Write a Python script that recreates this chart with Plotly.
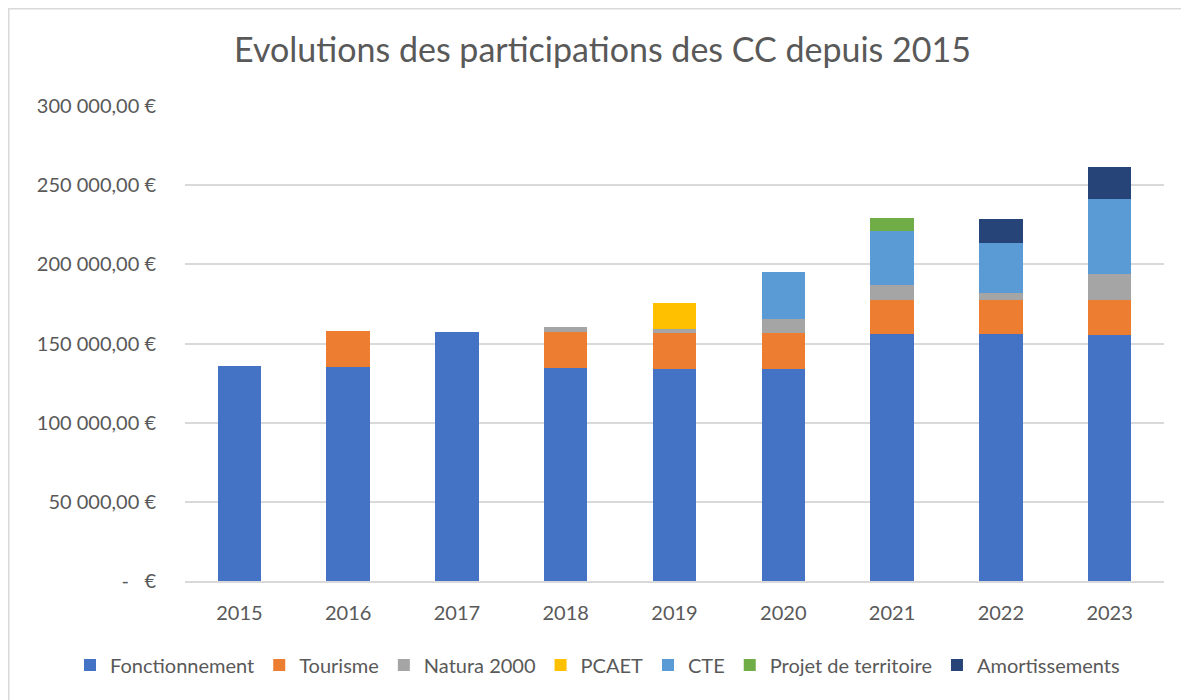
import plotly.graph_objects as go

years = ["2015", "2016", "2017", "2018", "2019", "2020", "2021", "2022", "2023"]
fonctionnement = [136000, 135400, 157500, 134800, 134100, 134100, 155800, 155800, 155400]
tourisme = [0, 22700, 0, 22300, 22800, 22800, 21900, 21900, 22300]
natura2000 = [0, 0, 0, 3100, 2300, 8400, 9100, 4000, 16400]
pcaet = [0, 0, 0, 0, 16500, 0, 0, 0, 0]
cte = [0, 0, 0, 0, 0, 29700, 34300, 31600, 47200]
projet = [0, 0, 0, 0, 0, 0, 8200, 0, 0]
amortissements = [0, 0, 0, 0, 0, 0, 0, 15400, 20000]

series = [
    ("Fonctionnement", fonctionnement, "#4472C4"),
    ("Tourisme", tourisme, "#ED7D31"),
    ("Natura 2000", natura2000, "#A5A5A5"),
    ("PCAET", pcaet, "#FFC000"),
    ("CTE", cte, "#5B9BD5"),
    ("Projet de territoire", projet, "#70AD47"),
    ("Amortissements", amortissements, "#264478"),
]

tick_vals = [0, 50000, 100000, 150000, 200000, 250000, 300000]
tick_text = ["-   €", "50 000,00 €", "100 000,00 €", "150 000,00 €",
             "200 000,00 €", "250 000,00 €", "300 000,00 €"]

fig = go.Figure()
for name, vals, color in series:
    fig.add_trace(go.Bar(
        x=years, y=vals, name=name,
        marker=dict(color=color, line=dict(width=0)),
    ))

W, H = 1189, 700
L, T, R, B = 177, 98, 33, 127
PW, PH = W - L - R, H - T - B

font_family = "Lato, 'Open Sans', sans-serif"
fig.update_layout(
    barmode="stack",
    bargap=0.6,
    width=W, height=H,
    paper_bgcolor="white", plot_bgcolor="white",
    margin=dict(l=L, r=R, t=T, b=B, autoexpand=False),
    title=dict(text="Evolutions des participations des CC depuis 2015",
               x=0.5, xanchor="center", y=1 - 42 / H, yanchor="middle",
               font=dict(family=font_family, size=34, color="#595959")),
    font=dict(family=font_family, size=20, color="#595959"),
    showlegend=True,
    legend=dict(orientation="h", x=(62 - L) / PW, xanchor="left",
                y=-84 / PH, yanchor="middle",
                font=dict(size=20, color="#595959"),
                traceorder="normal", itemwidth=30),
    xaxis=dict(showgrid=False, showline=True, linecolor="#d9d9d9", linewidth=1.5,
               ticks="", tickfont=dict(size=20), ticklabelstandoff=13),
    yaxis=dict(range=[0, 300000], tickvals=tick_vals, ticktext=tick_text,
               showgrid=True, gridcolor="#d9d9d9", gridwidth=1.5,
               zeroline=False, showline=False, ticks="",
               ticklabelstandoff=28, tickfont=dict(size=20)),
    shapes=[dict(type="rect", xref="paper", yref="paper",
                 x0=-(L - 0.5) / PW, x1=1 + (R + 20) / PW,
                 y0=-(B + 20) / PH, y1=1 + (T - 0.5) / PH,
                 line=dict(color="#d9d9d9", width=2), fillcolor="rgba(0,0,0,0)",
                 layer="below")],
)

fig.write_html("out.html")
